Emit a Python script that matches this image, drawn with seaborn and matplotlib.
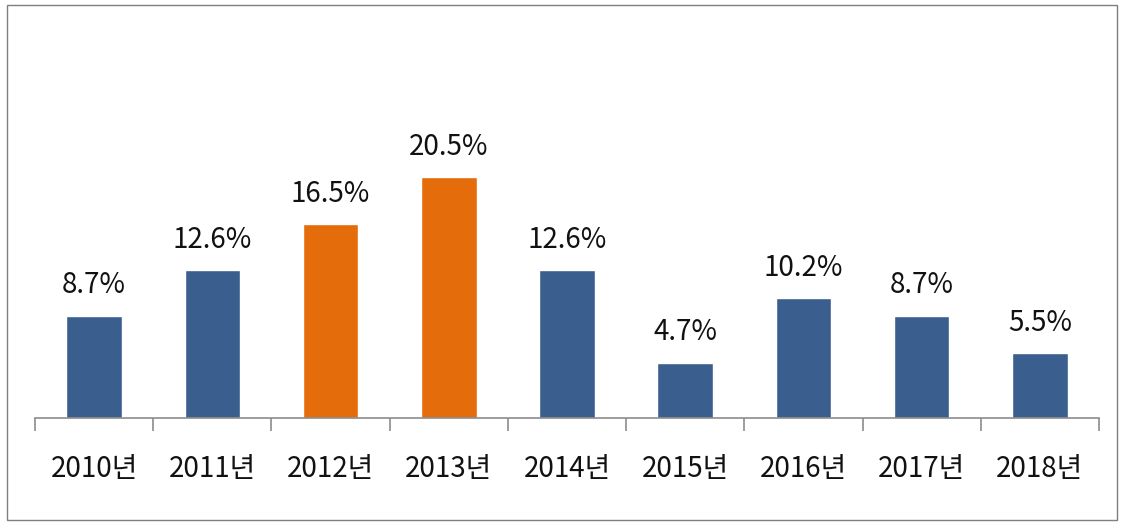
import matplotlib
matplotlib.use("Agg")
import matplotlib.pyplot as plt
from matplotlib.ticker import FixedLocator
from matplotlib.patches import Rectangle
import seaborn as sns
import pandas as pd

years = ["2010년", "2011년", "2012년", "2013년", "2014년", "2015년", "2016년", "2017년", "2018년"]
values = [8.7, 12.6, 16.5, 20.5, 12.6, 4.7, 10.2, 8.7, 5.5]
groups = ["normal", "normal", "high", "high", "normal", "normal", "normal", "normal", "normal"]
palette = {"normal": "#3A5E8E", "high": "#E46C0A"}

sns.set_theme(style="white")
plt.rcParams['font.family'] = ['Noto Sans CJK KR', 'DejaVu Sans']

df = pd.DataFrame({"year": years, "value": values, "group": groups})

fig = plt.figure(figsize=(11.22, 5.24), dpi=100)
ax = fig.add_axes([35/1122, (524-418)/524, (1099-35)/1122, (418-30)/524])

sns.barplot(data=df, x="year", y="value", hue="group", palette=palette,
            dodge=False, width=0.47, legend=False, ax=ax, saturation=1)

ax.set_xlim(-0.5, len(years) - 0.5)
ax.set_ylim(0, 388 / 11.76)
ax.set_xlabel("")
ax.set_ylabel("")
ax.set_yticks([])
for s in ["top", "right", "left"]:
    ax.spines[s].set_visible(False)
ax.spines["bottom"].set_color("#8C8C8C")
ax.spines["bottom"].set_linewidth(1.2)

ax.xaxis.set_minor_locator(FixedLocator([i - 0.5 for i in range(len(years) + 1)]))
ax.tick_params(axis="x", which="minor", bottom=True, length=9, width=1.2, color="#8C8C8C", direction="out")
ax.tick_params(axis="x", which="major", bottom=False, length=0, pad=26, labelsize=20, labelcolor="#111111")

for i, v in enumerate(values):
    ax.annotate(f"{v}%", xy=(i, v), xytext=(0, 11), textcoords="offset points",
                ha="center", va="bottom", fontsize=20, color="#111111")

fig.patches.append(Rectangle((7/1122, 4/524), (1117-7)/1122, (519-4)/524, transform=fig.transFigure,
                             fill=False, edgecolor="#7f7f7f", linewidth=1))

fig.savefig("out.png", dpi=100)
